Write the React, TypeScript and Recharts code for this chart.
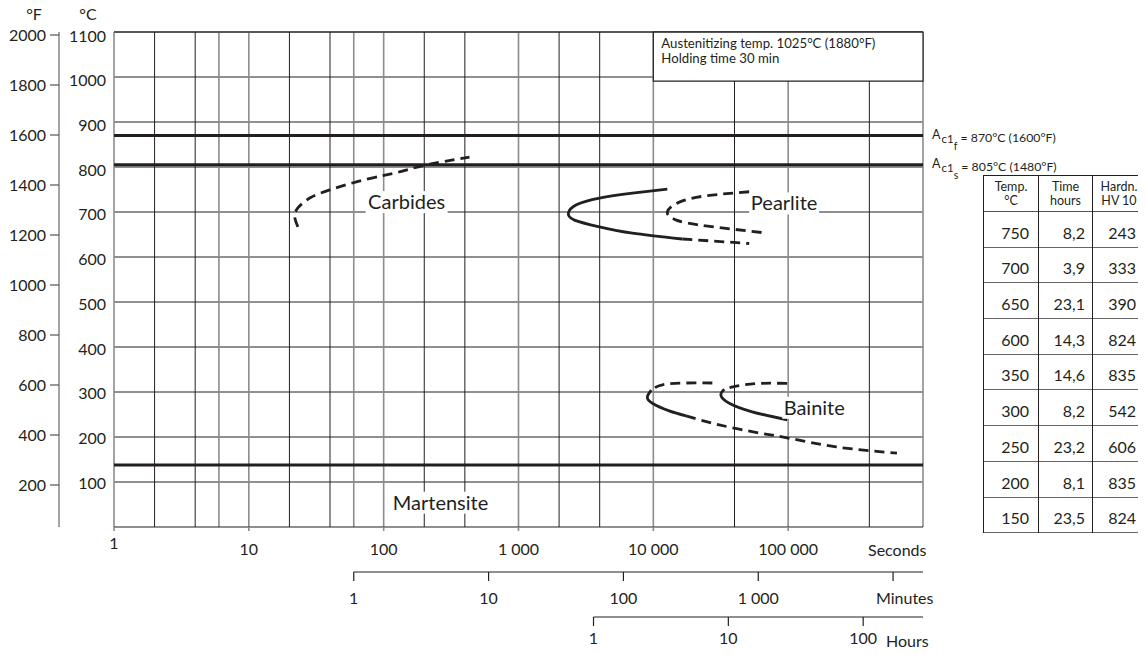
import React from 'react';
import {
  ComposedChart,
  Line,
  XAxis,
  YAxis,
  CartesianGrid,
  ReferenceLine,
  ReferenceArea,
  ReferenceDot,
} from 'recharts';

const FONT = 'Lato, "Open Sans", "DejaVu Sans", sans-serif';
const INK = '#231f20';
const GREY = '#8c8c8c';
const W = 1138;
const H = 640;

// ---------- axis ticks ----------
const secondTicks = [1, 10, 100, 1000, 10000, 100000];
const secondTickLabels = ['1', '10', '100', '1 000', '10 000', '100 000'];
const minuteTicks = [1, 10, 100, 1000, 10000];
const minuteTickLabels = ['1', '10', '100', '1 000', ''];
const hourTicks = [1, 10, 100];
const hourTickLabels = ['1', '10', '100'];
const celsiusTicks = [100, 200, 300, 400, 500, 600, 700, 800, 900, 1000, 1100];
const fahrenheitTicks = [200, 400, 600, 800, 1000, 1200, 1400, 1600, 1800, 2000];

const SEC_PER_MIN = 60;
const SEC_PER_HOUR = 3600;

// ---------- grid ----------
const gridTemps = [100, 200, 300, 400, 500, 600, 700, 800, 900, 1000, 1100];
const gridBlackTimes = [2, 4, 20, 40, 200, 400, 2000, 4000, 20000, 40000, 200000, 400000];
const gridGreyTimes = [
  1, 6, 8, 10, 60, 80, 100, 600, 800, 1000, 6000, 8000, 10000, 60000, 80000, 100000,
  600000, 800000, 1000000,
];

// ---------- critical temperatures (°C) ----------
const ac1f = 870;
const ac1s = 805;
const msTemp = 138;

// ---------- transformation curves (time s, temp °C) ----------
const carbidesTime = [23.1, 21.9, 23.1, 28.3, 39.8, 74.8, 131, 201, 433];
const carbidesTemp = [667, 689, 709, 731, 749, 773, 789, 804, 822];

const pearliteStartTime = [12700, 6990, 3980, 2690, 2345, 2600, 3980, 6990, 16400];
const pearliteStartTemp = [751, 742, 731, 716, 698, 682, 667, 653, 640];
const pearliteTailTime = [16400, 51400];
const pearliteTailTemp = [640, 630];
const pearliteEndTime = [51400, 24700, 15600, 12700, 14800, 21900, 38500, 69900];
const pearliteEndTemp = [745, 736, 722, 700, 682, 671, 662, 653];

const bainiteTopTime = [27400, 17500, 11700, 9660];
const bainiteTopTemp = [320, 320, 316, 304];
const bainiteNoseTime = [9660, 9030, 9840, 13100, 17500];
const bainiteNoseTemp = [304, 289, 275, 258, 247];
const bainiteTailTime = [17500, 30800, 61000, 107000, 227000, 641000];
const bainiteTailTemp = [247, 227, 209, 196, 178, 164];
const bainite2TopTime = [98400, 61000, 41200, 33600];
const bainite2TopTemp = [319, 319, 313, 306];
const bainite2NoseTime = [33600, 31700, 36600, 54100, 98400];
const bainite2NoseTemp = [306, 293, 275, 256, 238];

// ---------- table ----------
const tableTemps = [750, 700, 650, 600, 350, 300, 250, 200, 150];
const tableTimes = ['8,2', '3,9', '23,1', '14,3', '14,6', '8,2', '23,2', '8,1', '23,5'];
const tableHardness = [243, 333, 390, 824, 835, 542, 606, 835, 824];

const pts = (t: number[], T: number[]) => t.map((v, i) => ({ t: v, T: T[i] }));

// secondary time axes sit below the plot; positions expressed in the °C scale
const MIN_AXIS_T = -100;
const HOUR_AXIS_T = -200;
const TICK_T = 20;

const SecTick = (props: any) => {
  const { x, y, payload } = props;
  const i = secondTicks.indexOf(payload.value);
  const raise = payload.value === 1 ? -6 : 0;
  return (
    <text x={x} y={y + raise} dy="0.71em" textAnchor="middle" fontSize={16} fill={INK} fontFamily={FONT}>
      {secondTickLabels[i]}
    </text>
  );
};

const CelsiusTick = (props: any) => {
  const { x, y, payload } = props;
  const shift = 1 + (3 * (payload.value - 100)) / 1000;
  return (
    <text x={x} y={y + shift} dy="0.355em" textAnchor="end" fontSize={16} fill={INK} fontFamily={FONT}>
      {payload.value}
    </text>
  );
};

const SubTickLabel = (props: any) => {
  const { viewBox, text, gap } = props;
  if (!text) return null;
  return (
    <text
      x={viewBox.x + viewBox.width / 2}
      y={viewBox.y + viewBox.height + gap}
      dy="0.71em"
      textAnchor="middle"
      fontSize={16}
      fill={INK}
      fontFamily={FONT}
    >
      {text}
    </text>
  );
};

const AcLabel = (props: any) => {
  const { viewBox, sub, value } = props;
  const x = viewBox.x + viewBox.width + 9;
  const y = viewBox.y;
  return (
    <text x={x} y={y + 3} fontFamily={FONT} fill={INK} fontSize={12.5}>
      A
      <tspan fontSize={11.5} dy={4} dx={1}>c1</tspan>
      <tspan fontSize={10.5} dy={7}>{sub}</tspan>
      <tspan fontSize={12.3} dy={-8}>{' = ' + value}</tspan>
    </text>
  );
};

const NoteLabel = (props: any) => {
  const { viewBox } = props;
  const x = viewBox.x + 8;
  return (
    <text x={x} y={viewBox.y + 16} fontFamily={FONT} fill={INK} fontSize={13.2}>
      <tspan x={x}>Austenitizing temp. 1025°C (1880°F)</tspan>
      <tspan x={x} dy={15}>Holding time 30 min</tspan>
    </text>
  );
};

const PhaseLabel = (props: any) => {
  const { viewBox, text, w } = props;
  const cx = viewBox.x + viewBox.width / 2;
  const cy = viewBox.y + viewBox.height / 2;
  return (
    <g>
      <rect x={cx - w / 2} y={cy - 11} width={w} height={22} fill="#fff" />
      <text x={cx} y={cy} dy="0.35em" textAnchor="middle" fontSize={20} fill={INK} fontFamily={FONT}>
        {text}
      </text>
    </g>
  );
};

const curveProps = {
  xAxisId: 's',
  yAxisId: 'C',
  dataKey: 'T',
  type: 'natural' as const,
  stroke: INK,
  strokeWidth: 2.8,
  dot: false,
  activeDot: false,
  isAnimationActive: false,
  legendType: 'none' as const,
};
const DASH = '10 6';

const cellBase: React.CSSProperties = {
  borderLeft: `1px solid ${INK}`,
  borderRight: `1px solid ${INK}`,
  padding: 0,
};

export default function App() {
  return (
    <div style={{ position: 'relative', width: W, height: H, fontFamily: FONT }}>
      <ComposedChart width={W} height={H} margin={{ top: 24, right: 223, bottom: 0, left: 0 }}>
        <CartesianGrid
          xAxisId="s"
          yAxisId="C"
          stroke={INK}
          strokeWidth={1}
          horizontalValues={gridTemps}
          verticalValues={gridBlackTimes}
        />
        <CartesianGrid
          xAxisId="s"
          yAxisId="C"
          stroke={GREY}
          strokeWidth={1.6}
          horizontal={false}
          verticalValues={gridGreyTimes}
        />
        <XAxis
          xAxisId="s"
          dataKey="t"
          type="number"
          scale="log"
          domain={[1, 1000000]}
          allowDataOverflow
          ticks={secondTicks}
          height={121}
          axisLine={{ stroke: INK, strokeWidth: 1.2 }}
          tickLine={{ stroke: GREY, strokeWidth: 1.6 }}
          tickSize={4}
          tickMargin={13}
          tick={<SecTick />}
        />
        <YAxis
          yAxisId="C"
          type="number"
          domain={[0, 1100]}
          allowDataOverflow
          ticks={celsiusTicks}
          width={55}
          axisLine={false}
          tickLine={false}
          tickSize={6}
          tickMargin={2}
          tick={<CelsiusTick />}
        />
        <YAxis
          yAxisId="F"
          type="number"
          domain={[32, 2012]}
          allowDataOverflow
          ticks={fahrenheitTicks}
          width={51}
          axisLine={{ stroke: GREY, strokeWidth: 1.6 }}
          tickLine={{ stroke: '#555', strokeWidth: 1.2 }}
          tickSize={9}
          tickMargin={4}
          tick={{ fontSize: 16, fill: INK, fontFamily: FONT }}
        />

        {/* top border */}
        <ReferenceLine xAxisId="s" yAxisId="C" y={1100} stroke={INK} strokeWidth={1.2} />

        {/* minutes axis */}
        <ReferenceLine
          xAxisId="s"
          yAxisId="C"
          segment={[{ x: minuteTicks[0] * SEC_PER_MIN, y: MIN_AXIS_T }, { x: 1000000, y: MIN_AXIS_T }]}
          stroke={INK}
          strokeWidth={1.2}
          ifOverflow="visible"
        />
        {minuteTicks.map((v, i) => (
          <ReferenceLine
            key={'m' + v}
            xAxisId="s"
            yAxisId="C"
            segment={[
              { x: v * SEC_PER_MIN, y: MIN_AXIS_T },
              { x: v * SEC_PER_MIN, y: MIN_AXIS_T - TICK_T },
            ]}
            stroke={INK}
            strokeWidth={1.2}
            ifOverflow="visible"
            label={(p: any) => <SubTickLabel {...p} text={minuteTickLabels[i]} gap={12} />}
          />
        ))}

        {/* hours axis */}
        <ReferenceLine
          xAxisId="s"
          yAxisId="C"
          segment={[{ x: hourTicks[0] * SEC_PER_HOUR, y: HOUR_AXIS_T }, { x: 1000000, y: HOUR_AXIS_T }]}
          stroke={INK}
          strokeWidth={1.2}
          ifOverflow="visible"
        />
        {hourTicks.map((v, i) => (
          <ReferenceLine
            key={'h' + v}
            xAxisId="s"
            yAxisId="C"
            segment={[
              { x: v * SEC_PER_HOUR, y: HOUR_AXIS_T },
              { x: v * SEC_PER_HOUR, y: HOUR_AXIS_T - TICK_T },
            ]}
            stroke={INK}
            strokeWidth={1.2}
            ifOverflow="visible"
            label={(p: any) => <SubTickLabel {...p} text={hourTickLabels[i]} gap={7} />}
          />
        ))}

        {/* critical temperatures */}
        <ReferenceLine
          xAxisId="s"
          yAxisId="C"
          y={ac1f}
          stroke={INK}
          strokeWidth={3}
          label={(p: any) => <AcLabel {...p} sub="f" value="870°C (1600°F)" />}
        />
        <ReferenceLine
          xAxisId="s"
          yAxisId="C"
          y={ac1s}
          stroke={INK}
          strokeWidth={3}
          label={(p: any) => <AcLabel {...p} sub="s" value="805°C (1480°F)" />}
        />
        <ReferenceLine xAxisId="s" yAxisId="C" y={msTemp} stroke={INK} strokeWidth={3} />

        {/* note box */}
        <ReferenceArea
          xAxisId="s"
          yAxisId="C"
          x1={10000}
          x2={1000000}
          y1={991}
          y2={1100}
          fill="#fff"
          fillOpacity={1}
          stroke={INK}
          strokeWidth={1.2}
          label={(p: any) => <NoteLabel {...p} />}
        />

        {/* curves */}
        <Line {...curveProps} data={pts(carbidesTime, carbidesTemp)} strokeDasharray={DASH} />
        <Line {...curveProps} data={pts(pearliteStartTime, pearliteStartTemp)} />
        <Line {...curveProps} data={pts(pearliteTailTime, pearliteTailTemp)} strokeDasharray={DASH} />
        <Line {...curveProps} data={pts(pearliteEndTime, pearliteEndTemp)} strokeDasharray={DASH} />
        <Line {...curveProps} data={pts(bainiteTopTime, bainiteTopTemp)} strokeDasharray={DASH} />
        <Line {...curveProps} data={pts(bainiteNoseTime, bainiteNoseTemp)} />
        <Line {...curveProps} data={pts(bainiteTailTime, bainiteTailTemp)} strokeDasharray={DASH} />
        <Line {...curveProps} data={pts(bainite2TopTime, bainite2TopTemp)} strokeDasharray={DASH} />
        <Line {...curveProps} data={pts(bainite2NoseTime, bainite2NoseTemp)} />

        {/* phase labels */}
        <ReferenceDot xAxisId="s" yAxisId="C" x={148} y={722} r={1} fill="none" stroke="none"
          label={(p: any) => <PhaseLabel {...p} text="Carbides" w={82} />} />
        <ReferenceDot xAxisId="s" yAxisId="C" x={93300} y={719} r={1} fill="none" stroke="none"
          label={(p: any) => <PhaseLabel {...p} text="Pearlite" w={70} />} />
        <ReferenceDot xAxisId="s" yAxisId="C" x={156000} y={265} r={1} fill="none" stroke="none"
          label={(p: any) => <PhaseLabel {...p} text="Bainite" w={64} />} />
        <ReferenceDot xAxisId="s" yAxisId="C" x={264} y={54} r={1} fill="none" stroke="none"
          label={(p: any) => <PhaseLabel {...p} text="Martensite" w={100} />} />
      </ComposedChart>

      {/* unit labels (page coordinates) */}
      <svg
        width={1146}
        height={655}
        style={{ position: 'absolute', left: -8, top: -8, pointerEvents: 'none' }}
      >
        <g fontFamily={FONT} fill={INK} fontSize={16}>
          <text x={34} y={20} textAnchor="middle">°F</text>
          <text x={88} y={20} textAnchor="middle">°C</text>
          <text x={868} y={556}>Seconds</text>
          <text x={876} y={604}>Minutes</text>
          <text x={886} y={647}>Hours</text>
        </g>
      </svg>

      {/* hardness table */}
      <table
        style={{
          position: 'absolute',
          left: 975,
          top: 167,
          borderCollapse: 'collapse',
          fontFamily: FONT,
          color: INK,
          border: `1.5px solid ${INK}`,
          tableLayout: 'fixed',
        }}
      >
        <colgroup>
          <col style={{ width: 55 }} />
          <col style={{ width: 54 }} />
          <col style={{ width: 53 }} />
        </colgroup>
        <thead>
          <tr style={{ height: 36, borderBottom: `1.5px solid #555` }}>
            {[
              ['Temp.', '°C'],
              ['Time', 'hours'],
              ['Hardn.', 'HV 10'],
            ].map(([a, b], i) => (
              <th
                key={i}
                style={{
                  ...cellBase,
                  fontWeight: 'normal',
                  fontSize: 12.5,
                  lineHeight: '14px',
                  textAlign: 'center',
                  verticalAlign: 'middle',
                }}
              >
                {a}
                <br />
                {b}
              </th>
            ))}
          </tr>
        </thead>
        <tbody>
          {tableTemps.map((t, i) => (
            <tr key={t + '-' + i} style={{ height: 35.7, borderBottom: `1.5px solid #666` }}>
              {[String(t), tableTimes[i], String(tableHardness[i])].map((v, j) => (
                <td
                  key={j}
                  style={{
                    ...cellBase,
                    fontSize: 16,
                    textAlign: 'right',
                    verticalAlign: 'bottom',
                    paddingRight: j === 1 ? 7 : 9,
                    paddingBottom: 5,
                    lineHeight: '18px',
                  }}
                >
                  {v}
                </td>
              ))}
            </tr>
          ))}
        </tbody>
      </table>
    </div>
  );
}
